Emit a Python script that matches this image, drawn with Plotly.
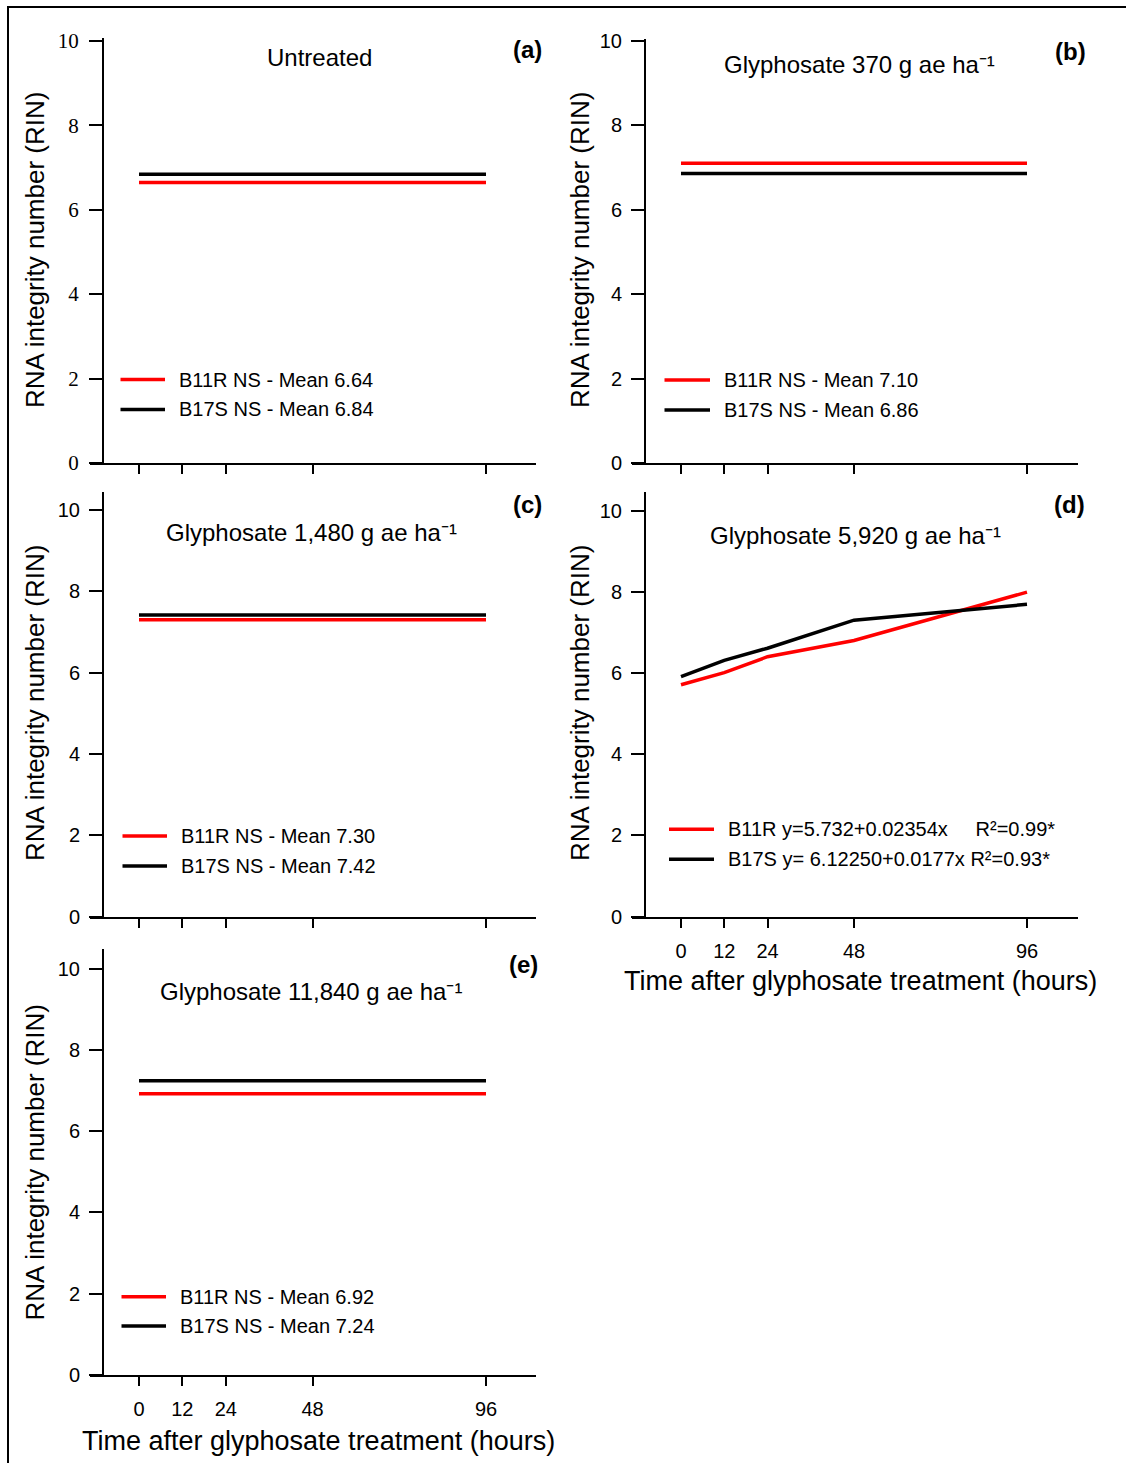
import plotly.graph_objects as go

W, H = 1126, 1463

# ---------------- data ----------------
hours = [0, 12, 24, 48, 96]
hour_labels = ["0", "12", "24", "48", "96"]
rin_ticks = [0, 2, 4, 6, 8, 10]
rin_tick_labels = ["0", "2", "4", "6", "8", "10"]

panel_keys = ["a", "b", "c", "d", "e"]
panel_letters = ["(a)", "(b)", "(c)", "(d)", "(e)"]
panel_titles = [
    "Untreated",
    "Glyphosate 370 g ae ha\u207b\u00b9",
    "Glyphosate 1,480 g ae ha\u207b\u00b9",
    "Glyphosate 5,920 g ae ha\u207b\u00b9",
    "Glyphosate 11,840 g ae ha\u207b\u00b9",
]

# mean RIN (no significant time effect) for panels a, b, c, e
mean_panels = ["a", "b", "c", "e"]
b11r_mean = [6.64, 7.10, 7.30, 6.92]
b17s_mean = [6.84, 6.86, 7.42, 7.24]

# panel d: RIN over time
b11r_d = [5.71, 6.01, 6.40, 6.80, 7.99]
b17s_d = [5.91, 6.31, 6.61, 7.30, 7.69]

legend_b11r = [
    "B11R NS - Mean 6.64",
    "B11R NS - Mean 7.10",
    "B11R NS - Mean 7.30",
    "B11R y=5.732+0.02354x\u00a0\u00a0\u00a0\u00a0\u00a0R\u00b2=0.99*",
    "B11R NS - Mean 6.92",
]
legend_b17s = [
    "B17S NS - Mean 6.84",
    "B17S NS - Mean 6.86",
    "B17S NS - Mean 7.42",
    "B17S y= 6.12250+0.0177x R\u00b2=0.93*",
    "B17S NS - Mean 7.24",
]

y_title = "RNA integrity number (RIN)"
x_title = "Time after glyphosate treatment (hours)"

# ---------------- layout geometry (pixels) ----------------
RED = "#FF0000"
BLACK = "#000000"
SANS = "Liberation Sans, Arial, sans-serif"
SERIF = "Liberation Serif, Times New Roman, serif"

geo = {
    "a": dict(xl=90, xr=536, yax=103, x0=139, x96=486, y0=463, y10=40.7, ytop=38.3),
    "b": dict(xl=632, xr=1077.5, yax=645, x0=681, x96=1027, y0=463.3, y10=40.7, ytop=39),
    "c": dict(xl=90, xr=536, yax=103, x0=139, x96=486, y0=916.7, y10=510, ytop=491.5),
    "d": dict(xl=632, xr=1077.5, yax=645, x0=681, x96=1027, y0=916.7, y10=510.5, ytop=491.5),
    "e": dict(xl=90, xr=536, yax=103, x0=139, x96=486, y0=1375, y10=968.5, ytop=949.3),
}
title_pos = {"a": (319, 57, "center"), "b": (722.5, 65, "left"), "c": (163.6, 532, "left"),
             "d": (708, 535, "left"), "e": (158, 991.5, "left")}
letter_pos = {"a": (527.5, 49.5), "b": (1070, 51), "c": (527, 504), "d": (1069, 504), "e": (523.5, 964)}
ytitle_pos = {"a": (35, 250), "b": (580, 250), "c": (35, 703), "d": (580, 703), "e": (34, 1162.5)}
xtitle_pos = {"d": (860.5, 980.5), "e": (318.5, 1440.5)}
legend_pos = {"a": (120.5, 165, 177, 379.5, 409.5), "b": (664.5, 710, 722, 380, 410),
              "c": (122.5, 167, 179, 836, 866), "d": (669, 714, 725.5, 829.3, 859.3),
              "e": (121.5, 166, 177.5, 1296.7, 1326)}


def px(x):
    return x / W


def py(y):
    return 1 - y / H


fig = go.Figure()
layout = dict(
    width=W, height=H, autosize=False,
    margin=dict(l=0, r=0, t=0, b=0, pad=0, autoexpand=False),
    paper_bgcolor="white", plot_bgcolor="white", showlegend=False,
    font=dict(family=SANS, color=BLACK, size=20),
    template="none",
)
annotations = []
shapes = []

for i, k in enumerate(panel_keys):
    n = i + 1
    g = geo[k]
    pph = (g["x96"] - g["x0"]) / 96.0
    ppu = (g["y0"] - g["y10"]) / 10.0
    xr = [(g["xl"] - g["x0"]) / pph, (g["xr"] - g["x0"]) / pph]
    yr = [0, (g["y0"] - g["ytop"]) / ppu]
    xa = "x" if n == 1 else f"x{n}"
    ya = "y" if n == 1 else f"y{n}"
    show_xlab = k in ("d", "e")
    layout["xaxis" if n == 1 else f"xaxis{n}"] = dict(
        domain=[px(g["xl"]), px(g["xr"])], range=xr, anchor=ya, automargin=False,
        showline=True, linecolor=BLACK, linewidth=2, mirror=False,
        ticks="outside", ticklen=9, tickwidth=2, tickcolor=BLACK,
        tickmode="array", tickvals=hours, ticktext=hour_labels,
        showticklabels=show_xlab, tickfont=dict(family=SANS, size=20, color=BLACK),
        ticklabelstandoff=6,
        showgrid=False, zeroline=False, fixedrange=True,
    )
    layout["yaxis" if n == 1 else f"yaxis{n}"] = dict(
        domain=[py(g["y0"]), py(g["ytop"])], range=yr, anchor="free", position=px(g["yax"]),
        automargin=False,
        showline=True, linecolor=BLACK, linewidth=2,
        ticks="outside", ticklen=13, tickwidth=2, tickcolor=BLACK,
        tickmode="array", tickvals=rin_ticks, ticktext=rin_tick_labels,
        tickfont=dict(family=SERIF if k == "a" else SANS, size=21 if k == "a" else 20, color=BLACK),
        ticklabelstandoff=6 if k == "a" else 5,
        showgrid=False, zeroline=False, fixedrange=True,
    )

    # data lines
    if k == "d":
        fig.add_trace(go.Scatter(x=hours, y=b11r_d, mode="lines", line=dict(color=RED, width=3.5),
                                 name=legend_b11r[i], xaxis=xa, yaxis=ya))
        fig.add_trace(go.Scatter(x=hours, y=b17s_d, mode="lines", line=dict(color=BLACK, width=3.5),
                                 name=legend_b17s[i], xaxis=xa, yaxis=ya))
    else:
        j = mean_panels.index(k)
        fig.add_trace(go.Scatter(x=[hours[0], hours[-1]], y=[b17s_mean[j]] * 2, mode="lines",
                                 line=dict(color=BLACK, width=3.5), name=legend_b17s[i],
                                 xaxis=xa, yaxis=ya))
        fig.add_trace(go.Scatter(x=[hours[0], hours[-1]], y=[b11r_mean[j]] * 2, mode="lines",
                                 line=dict(color=RED, width=3.5), name=legend_b11r[i],
                                 xaxis=xa, yaxis=ya))

    # panel title
    tx, ty, anc = title_pos[k]
    annotations.append(dict(x=px(tx), y=py(ty), xref="paper", yref="paper", text=panel_titles[i],
                            showarrow=False, xanchor=anc, yanchor="middle",
                            font=dict(family=SANS, size=24, color=BLACK)))
    # panel letter
    lx, ly = letter_pos[k]
    annotations.append(dict(x=px(lx), y=py(ly), xref="paper", yref="paper",
                            text=f"<b>{panel_letters[i]}</b>", showarrow=False,
                            xanchor="center", yanchor="middle",
                            font=dict(family=SANS, size=24, color=BLACK)))
    # y title
    yx, yy = ytitle_pos[k]
    annotations.append(dict(x=px(yx), y=py(yy), xref="paper", yref="paper", text=y_title,
                            textangle=-90, showarrow=False, xanchor="center", yanchor="middle",
                            font=dict(family=SANS, size=26, color=BLACK)))
    # x title
    if k in xtitle_pos:
        xx, xy = xtitle_pos[k]
        annotations.append(dict(x=px(xx), y=py(xy), xref="paper", yref="paper", text=x_title,
                                showarrow=False, xanchor="center", yanchor="middle",
                                font=dict(family=SANS, size=27, color=BLACK)))
    # legend (drawn inside panel)
    l0, l1, ltx, ly1, ly2 = legend_pos[k]
    for col, yy_, lab in ((RED, ly1, legend_b11r[i]), (BLACK, ly2, legend_b17s[i])):
        shapes.append(dict(type="line", xref="paper", yref="paper", x0=px(l0), x1=px(l1),
                           y0=py(yy_), y1=py(yy_), line=dict(color=col, width=3.5)))
        annotations.append(dict(x=px(ltx), y=py(yy_), xref="paper", yref="paper", text=lab,
                                showarrow=False, xanchor="left", yanchor="middle",
                                font=dict(family=SANS, size=20, color=BLACK)))

# outer frame (top and left edges visible)
shapes.append(dict(type="rect", xref="paper", yref="paper", x0=px(8), y0=py(H + 20),
                   x1=px(W + 20), y1=py(7), line=dict(color=BLACK, width=2)))

layout["annotations"] = annotations
layout["shapes"] = shapes
fig.update_layout(**layout)
fig.write_html("out.html")
